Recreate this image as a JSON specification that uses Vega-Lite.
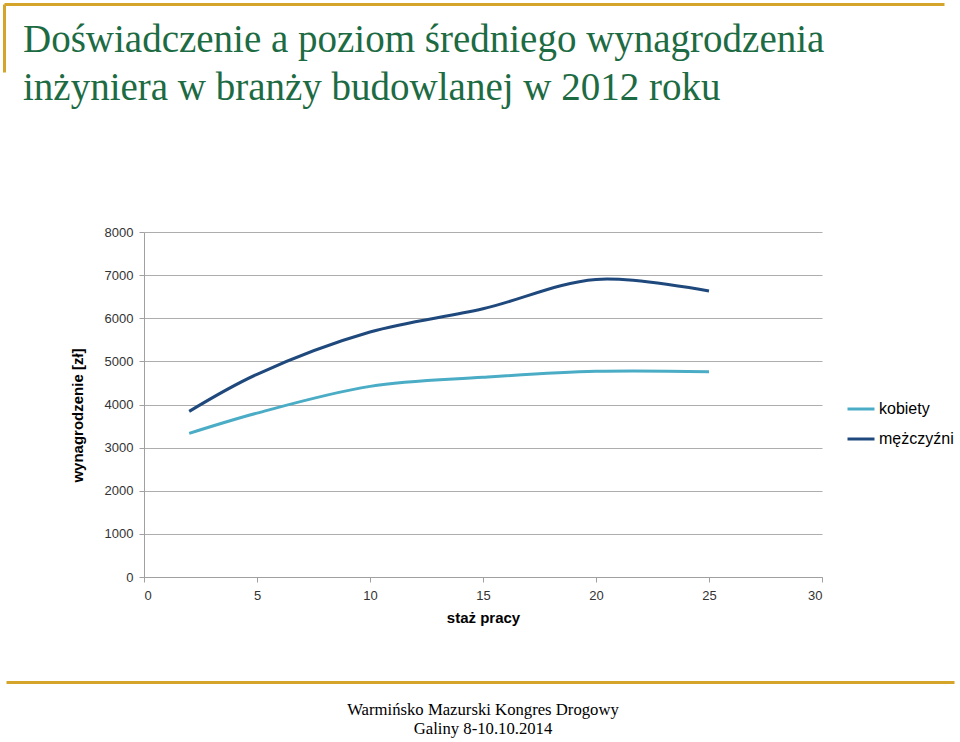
{
  "$schema": "https://vega.github.io/schema/vega-lite/v6.json",
  "background": "white",
  "padding": {"left": 4, "top": 4, "right": 0, "bottom": 0},
  "bounds": "flush",
  "center": true,
  "spacing": 105,
  "config": {"view": {"stroke": null}},
  "vconcat": [
    {
      "width": 958,
      "height": 123,
      "data": {"values": [
        {"k": "t", "line": 1, "text": "Doświadczenie a poziom średniego wynagrodzenia"},
        {"k": "t", "line": 2, "text": "inżyniera w branży budowlanej w 2012 roku"}
      ]},
      "mark": {"type": "text", "align": "left", "baseline": "alphabetic", "font": "Liberation Serif", "fontSize": 39, "color": "#1D6B43", "dx": 19, "dy": 38},
      "encoding": {
        "x": {"field": "k", "type": "nominal", "scale": {"type": "point", "range": [0, 940], "align": 0, "padding": 0},
          "axis": {"orient": "top", "domainColor": "#D4A52A", "domainWidth": 3, "ticks": false, "labels": false, "title": null, "grid": false}},
        "y": {"field": "line", "type": "ordinal", "scale": {"type": "point", "range": [0, 68], "padding": 0.2083},
          "axis": {"orient": "left", "domainColor": "#D4A52A", "domainWidth": 3, "ticks": false, "labels": false, "title": null, "grid": false}},
        "text": {"field": "text"}
      }
    },
    {
      "width": 678,
      "height": 345,
      "data": {"values": [
        {"staz": 2, "wynagrodzenie": 3330, "plec": "kobiety"},
        {"staz": 5, "wynagrodzenie": 3800, "plec": "kobiety"},
        {"staz": 10, "wynagrodzenie": 4420, "plec": "kobiety"},
        {"staz": 15, "wynagrodzenie": 4630, "plec": "kobiety"},
        {"staz": 20, "wynagrodzenie": 4770, "plec": "kobiety"},
        {"staz": 25, "wynagrodzenie": 4760, "plec": "kobiety"},
        {"staz": 2, "wynagrodzenie": 3840, "plec": "mężczyźni"},
        {"staz": 5, "wynagrodzenie": 4700, "plec": "mężczyźni"},
        {"staz": 10, "wynagrodzenie": 5680, "plec": "mężczyźni"},
        {"staz": 15, "wynagrodzenie": 6220, "plec": "mężczyźni"},
        {"staz": 20, "wynagrodzenie": 6900, "plec": "mężczyźni"},
        {"staz": 25, "wynagrodzenie": 6630, "plec": "mężczyźni"}
      ]},
      "mark": {"type": "line", "interpolate": "catmull-rom", "strokeWidth": 3},
      "encoding": {
        "x": {"field": "staz", "type": "quantitative", "scale": {"domain": [0, 30], "nice": false, "zero": true},
          "axis": {"title": "staż pracy", "values": [0, 5, 10, 15, 20, 25, 30], "grid": false, "format": "d",
            "domainColor": "#A0A0A0", "tickColor": "#A0A0A0", "tickSize": 5, "labelPadding": 7,
            "labelFont": "Liberation Sans", "labelFontSize": 13, "labelColor": "#333333",
            "titleFont": "Liberation Sans", "titleFontSize": 15, "titleFontWeight": "bold", "titleColor": "#000000", "titlePadding": 8}},
        "y": {"field": "wynagrodzenie", "type": "quantitative", "scale": {"domain": [0, 8000], "nice": false},
          "axis": {"title": "wynagrodzenie [zł]", "values": [0, 1000, 2000, 3000, 4000, 5000, 6000, 7000, 8000], "format": "d",
            "grid": true, "gridColor": "#ADADAD", "gridWidth": 1,
            "domainColor": "#A0A0A0", "tickColor": "#A0A0A0", "tickSize": 5, "labelPadding": 6,
            "labelFont": "Liberation Sans", "labelFontSize": 13, "labelColor": "#333333",
            "titleFont": "Liberation Sans", "titleFontSize": 15, "titleFontWeight": "bold", "titleColor": "#000000", "titlePadding": 19, "titleY": 183}},
        "color": {"field": "plec", "type": "nominal",
          "scale": {"domain": ["kobiety", "mężczyźni"], "range": ["#4BACC6", "#1F497D"]},
          "legend": {"title": null, "orient": "none", "legendX": 842, "legendY": 390, "padding": 0,
            "symbolType": "stroke", "symbolSize": 729, "symbolStrokeWidth": 3, "labelOffset": 3, "rowPadding": 7,
            "labelFont": "Liberation Sans", "labelFontSize": 16, "labelColor": "#000000"}}
      }
    },
    {
      "width": 958,
      "height": 50,
      "data": {"values": [
        {"k": "c", "line": 1, "text": "Warmińsko Mazurski Kongres Drogowy"},
        {"k": "c", "line": 2, "text": "Galiny 8-10.10.2014"}
      ]},
      "mark": {"type": "text", "align": "center", "baseline": "alphabetic", "font": "Liberation Serif", "fontSize": 16.7, "color": "#000000", "dx": 3, "dy": 17.5},
      "encoding": {
        "x": {"field": "k", "type": "nominal", "scale": {"type": "point", "range": [2, 950]},
          "axis": {"orient": "top", "domainColor": "#D4A52A", "domainWidth": 3, "ticks": false, "labels": false, "title": null, "grid": false}},
        "y": {"field": "line", "type": "ordinal", "scale": {"type": "point", "range": [0, 50], "padding": 0.8158}, "axis": null},
        "text": {"field": "text"}
      }
    }
  ]
}
